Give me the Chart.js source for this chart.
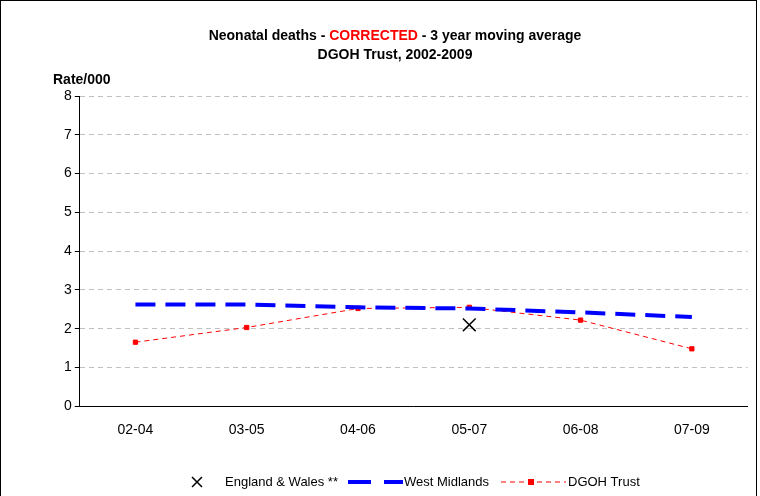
<!DOCTYPE html>
<html><head><meta charset="utf-8">
<script src="https://cdn.jsdelivr.net/npm/chart.js@4"></script>
<style>
body{margin:0;background:#fff;}
#wrap{position:absolute;left:0;top:0;width:757px;height:500px;border:1px solid #000;box-sizing:border-box;}
</style></head>
<body>
<div id="wrap"><canvas id="c" width="757" height="500"></canvas></div>
<script>
const categories = ['02-04', '03-05', '04-06', '05-07', '06-08', '07-09'];
const englandWales = [null, null, null, 2.1, null, null];
const westMidlands = [2.62, 2.62, 2.55, 2.52, 2.42, 2.3];
const dgohTrust = [1.65, 2.03, 2.52, 2.55, 2.22, 1.48];
const FONT = 'Arial, "Liberation Sans"';

// two-colour title, axis caption and the legend in the original's style
const decorPlugin = {
  id: 'decorPlugin',
  afterDraw(chart) {
    const ctx = chart.ctx;
    ctx.save();
    ctx.font = 'bold 14px ' + FONT;
    ctx.textBaseline = 'middle';
    const parts = [['Neonatal deaths - ', '#000'], ['CORRECTED', '#ff0000'], [' - 3 year moving average', '#000']];
    const total = parts.reduce((s, p) => s + ctx.measureText(p[0]).width, 0);
    let x = 394 - total / 2;
    parts.forEach(p => { ctx.fillStyle = p[1]; ctx.fillText(p[0], x, 35); x += ctx.measureText(p[0]).width; });
    ctx.fillStyle = '#000';
    ctx.textAlign = 'center';
    ctx.fillText('DGOH Trust, 2002-2009', 394, 54);
    ctx.textAlign = 'left';
    ctx.fillText('Rate/000', 52, 79);

    // legend
    const ly = 481;
    ctx.font = '13px ' + FONT;
    ctx.strokeStyle = '#000'; ctx.lineWidth = 1.5;
    ctx.beginPath(); ctx.moveTo(191, ly - 5); ctx.lineTo(201, ly + 5); ctx.moveTo(201, ly - 5); ctx.lineTo(191, ly + 5); ctx.stroke();
    ctx.fillText('England & Wales **', 224, ly);
    ctx.strokeStyle = '#0000ff'; ctx.lineWidth = 4;
    ctx.beginPath(); ctx.moveTo(347, ly); ctx.lineTo(370, ly); ctx.moveTo(383, ly); ctx.lineTo(402, ly); ctx.stroke();
    ctx.fillText('West Midlands', 403, ly);
    ctx.strokeStyle = '#ff0000'; ctx.lineWidth = 1;
    ctx.setLineDash([5, 4]);
    ctx.beginPath(); ctx.moveTo(500, ly); ctx.lineTo(565, ly); ctx.stroke();
    ctx.setLineDash([]);
    ctx.fillStyle = '#ff0000'; ctx.fillRect(527, ly - 3, 6, 6);
    ctx.fillStyle = '#000';
    ctx.fillText('DGOH Trust', 567, ly);
    ctx.restore();
  }
};

new Chart(document.getElementById('c'), {
  type: 'line',
  data: {
    labels: categories,
    datasets: [
      { label: 'England & Wales **', data: englandWales, showLine: false, pointStyle: 'crossRot',
        pointRadius: 9, borderColor: '#000', backgroundColor: '#000', borderWidth: 1.5 },
      { label: 'West Midlands', data: westMidlands, borderColor: '#0000ff', borderWidth: 4,
        borderDash: [20, 10], pointRadius: 0 },
      { label: 'DGOH Trust', data: dgohTrust, borderColor: '#ff0000', backgroundColor: '#ff0000',
        borderWidth: 1, borderDash: [5, 4], pointStyle: 'rect', pointRadius: 3 }
    ]
  },
  options: {
    responsive: false,
    animation: false,
    layout: { padding: { top: 95, right: 10, left: 60, bottom: 54 } },
    plugins: { legend: { display: false }, tooltip: { enabled: false } },
    scales: {
      x: {
        offset: true,
        grid: { display: false },
        border: { color: '#000' },
        ticks: { color: '#000', font: { size: 14, family: FONT }, padding: 8 }
      },
      y: {
        min: 0, max: 8,
        ticks: { stepSize: 1, color: '#000', font: { size: 14, family: FONT } },
        grid: { color: '#c0c0c0', tickColor: '#000', tickLength: 5 },
        border: { color: '#000', dash: [5, 4] }
      }
    }
  },
  plugins: [decorPlugin]
});
</script>
</body></html>
